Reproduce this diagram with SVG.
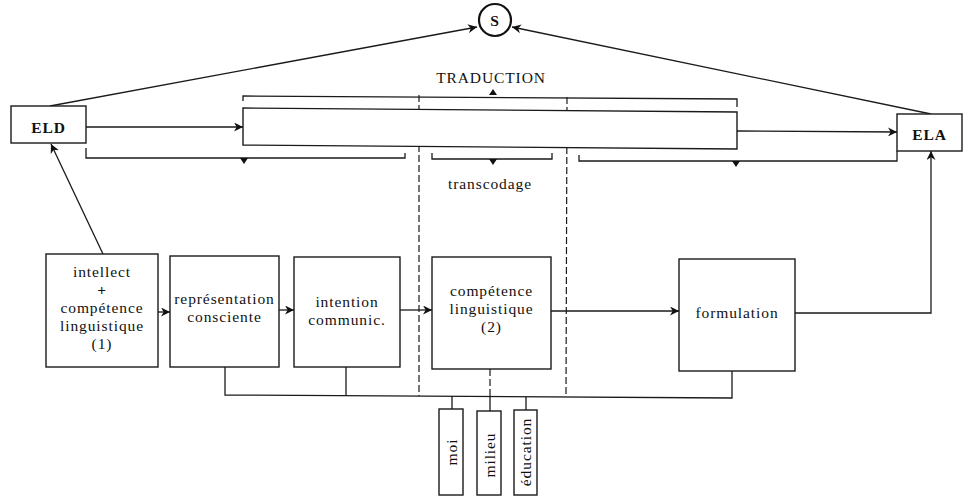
<svg xmlns="http://www.w3.org/2000/svg" width="968" height="498" viewBox="0 0 968 498">
<defs>
<marker id="arr" viewBox="0 0 10 10" refX="10" refY="5" markerWidth="9" markerHeight="9" markerUnits="userSpaceOnUse" orient="auto">
<path d="M0,0 L10,5 L0,10 L3,5 Z" fill="#111"/>
</marker>
<style>
.ln{stroke:#1a1a1a;stroke-width:1.3;fill:none}
.bx{stroke:#1a1a1a;stroke-width:1.4;fill:#fff}
.ds{stroke:#1a1a1a;stroke-width:1.2;fill:none;stroke-dasharray:7 3}
.t{font-family:"Liberation Serif","Times New Roman",serif;font-size:15.5px;letter-spacing:0.9px;fill:#111;text-anchor:middle}
.tri{fill:#111}
</style>
</defs>
<rect width="968" height="498" fill="#fff"/>

<g id="connectors">
<line class="ln" x1="50" y1="106" x2="477" y2="27" marker-end="url(#arr)"/>
<line class="ln" x1="931" y1="114" x2="512" y2="27" marker-end="url(#arr)"/>
<line class="ln" x1="86" y1="127" x2="243" y2="127" marker-end="url(#arr)"/>
<line class="ln" x1="737" y1="131" x2="897" y2="132" marker-end="url(#arr)"/>
<line class="ln" x1="103" y1="254" x2="51" y2="144" marker-end="url(#arr)"/>
<line class="ln" x1="158" y1="312" x2="170" y2="312" marker-end="url(#arr)"/>
<line class="ln" x1="279" y1="310" x2="294" y2="310" marker-end="url(#arr)"/>
<line class="ln" x1="400" y1="310" x2="432" y2="310" marker-end="url(#arr)"/>
<line class="ln" x1="551" y1="311" x2="679" y2="311" marker-end="url(#arr)"/>
<polyline class="ln" points="795,313 931,313 931,151" marker-end="url(#arr)"/>
<polyline class="ln" points="243,101 243,96 737,99 737,107"/>
<path class="tri" d="M489,95 L497,95 L493,89 Z"/>
<polyline class="ln" points="86,148 86,158 405,158 405,153"/>
<path class="tri" d="M240,158 L248,158 L244,164 Z"/>
<polyline class="ln" points="432,153 432,159 552,159 552,153"/>
<path class="tri" d="M489,159 L497,159 L493,165 Z"/>
<polyline class="ln" points="579,155 579,161 897,161 897,151"/>
<path class="tri" d="M732,161 L740,161 L736,167 Z"/>
<line class="ds" x1="419" y1="95" x2="419" y2="396"/>
<line class="ds" x1="567" y1="97" x2="566" y2="397"/>
<line class="ds" x1="490" y1="369" x2="490" y2="396"/>
<polyline class="ln" points="225,367 225,395 732,398 732,371"/>
<line class="ln" x1="346" y1="367" x2="346" y2="395"/>
<line class="ln" x1="452" y1="396" x2="452" y2="409"/>
<line class="ln" x1="490" y1="396" x2="490" y2="411"/>
<line class="ln" x1="526" y1="397" x2="526" y2="410"/>
</g>

<g id="S" font-family="Liberation Serif, serif">
<circle cx="495" cy="20" r="16" fill="#fff" stroke="#111" stroke-width="2.2"/>
<text class="t" x="495" y="26" font-size="16" font-weight="bold" letter-spacing="0">S</text>
</g>

<g id="traduction" font-family="Liberation Serif, serif">
<polygon class="bx" points="243,108 737,112 737,149 243,145"/>
<text class="t" x="491" y="83" font-size="17" letter-spacing="1.4">TRADUCTION</text>
</g>

<g id="transcodage" font-family="Liberation Serif, serif">
<text class="t" x="490" y="189" font-size="17" letter-spacing="0.3">transcodage</text>
</g>

<g id="ELD" font-family="Liberation Serif, serif">
<rect class="bx" x="11" y="106" width="75" height="37"/>
<text class="t" x="48.5" y="133" font-weight="bold" font-size="17" letter-spacing="0">ELD</text>
</g>

<g id="ELA" font-family="Liberation Serif, serif">
<rect class="bx" x="897" y="114" width="65" height="37"/>
<text class="t" x="929.5" y="140" font-weight="bold" font-size="17" letter-spacing="0">ELA</text>
</g>

<g id="intellect" font-family="Liberation Serif, serif">
<rect class="bx" x="46" y="254" width="112" height="113"/>
<text class="t" x="102" y="277">intellect</text>
<text class="t" x="102" y="295" font-weight="bold" font-size="17">+</text>
<text class="t" x="102" y="313">compétence</text>
<text class="t" x="102" y="331">linguistique</text>
<text class="t" x="102" y="349">(1)</text>
</g>

<g id="representation" font-family="Liberation Serif, serif">
<rect class="bx" x="170" y="256" width="109" height="111"/>
<text class="t" x="224.5" y="304" letter-spacing="0.6">représentation</text>
<text class="t" x="224.5" y="322">consciente</text>
</g>

<g id="intention" font-family="Liberation Serif, serif">
<rect class="bx" x="294" y="257" width="106" height="110"/>
<text class="t" x="347" y="307">intention</text>
<text class="t" x="347" y="325">communic.</text>
</g>

<g id="competence2" font-family="Liberation Serif, serif">
<rect class="bx" x="432" y="257" width="119" height="112"/>
<text class="t" x="491.5" y="296">compétence</text>
<text class="t" x="491.5" y="314">linguistique</text>
<text class="t" x="491.5" y="332">(2)</text>
</g>

<g id="formulation" font-family="Liberation Serif, serif">
<rect class="bx" x="679" y="259" width="116" height="112"/>
<text class="t" x="737" y="318" font-size="18" letter-spacing="0.3">formulation</text>
</g>

<g id="moi" font-family="Liberation Serif, serif">
<rect class="bx" x="439" y="409" width="24" height="86"/>
<text class="t" transform="translate(457,452) rotate(-90)" x="0" y="0" font-size="17" letter-spacing="0.3">moi</text>
</g>

<g id="milieu" font-family="Liberation Serif, serif">
<rect class="bx" x="477" y="411" width="24" height="84"/>
<text class="t" transform="translate(495,455) rotate(-90)" x="0" y="0" font-size="17" letter-spacing="0.3">milieu</text>
</g>

<g id="education" font-family="Liberation Serif, serif">
<rect class="bx" x="514" y="410" width="23" height="85"/>
<text class="t" transform="translate(531,452) rotate(-90)" x="0" y="0" font-size="17" letter-spacing="0.3">éducation</text>
</g>
</svg>
